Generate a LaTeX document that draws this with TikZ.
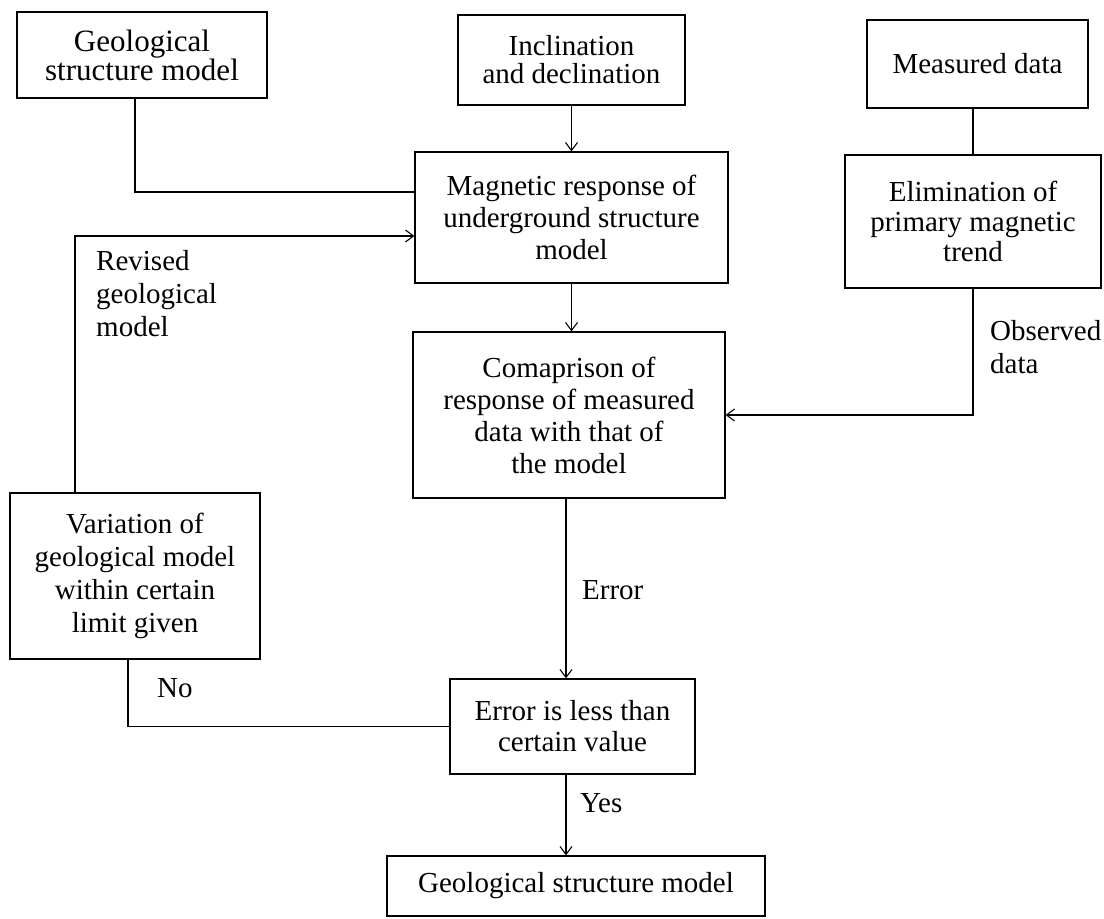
\documentclass[tikz,border=0pt]{standalone}
\usepackage{fontspec}
\setmainfont{Liberation Serif}
\usetikzlibrary{arrows.meta}
\begin{document}
\begin{tikzpicture}[x=1pt,y=-1pt,
  box/.style={draw, line width=1.3pt, inner sep=0pt, align=center, font=\fontsize{29}{32}\selectfont},
  lbl/.style={inner sep=0pt, align=left, font=\fontsize{29}{33}\selectfont},
  link/.style={line width=1.3pt},
  arr/.style={link, -{Straight Barb[length=8pt,width=12pt,line width=1.1pt]}}]
\useasboundingbox (0,0) rectangle (1104,919);
\fill[white] (0,0) rectangle (1104,919);
% boxes
\node[box, minimum width=250pt, minimum height=86pt, font=\fontsize{31}{28}\selectfont] (geo) at (142,55) {Geological\\structure model};
\node[box, minimum width=227pt, minimum height=90pt, font=\fontsize{29}{28}\selectfont] (inc) at (571.5,60) {Inclination\\and declination};
\node[box, minimum width=221pt, minimum height=88pt] (meas) at (977.5,64) {Measured data};
\node[box, minimum width=313pt, minimum height=131pt] (mag) at (571.5,217.5) {Magnetic response of\\underground structure\\model};
\node[box, minimum width=256pt, minimum height=133pt, font=\fontsize{29}{30}\selectfont] (elim) at (973,221.5) {Elimination of\\primary magnetic\\trend};
\node[box, minimum width=312pt, minimum height=166pt] (comp) at (569,415) {Comaprison of\\response of measured\\data with that of\\the model};
\node[box, minimum width=250pt, minimum height=166pt, font=\fontsize{29}{33}\selectfont] (var) at (135,576) {Variation of\\geological model\\within certain\\limit given};
\node[box, minimum width=245pt, minimum height=95pt, font=\fontsize{29}{31}\selectfont] (err) at (572.5,726.5) {Error is less than\\certain value};
\node[box, minimum width=378pt, minimum height=60pt] (final) at (576,886) {Geological structure model};
% helper coordinates
\coordinate (j1) at (135,192);
\coordinate (j4) at (75,236);
\coordinate (cx) at (566,0);
% connectors
\draw[link] (geo.south -| j1) -- (j1) -- (j1 -| mag.west);
\draw[arr] (inc.south) -- (inc.south |- mag.north);
\draw[link] (elim.north |- meas.south) -- (elim.north);
\draw[arr] (mag.south) -- (mag.south |- comp.north);
\draw[arr] (elim.south) |- (comp.east);
\draw[arr] (comp.south -| cx) -- (err.north -| cx);
\draw[arr] (err.south -| cx) -- (final.north -| cx);
\draw[link] (err.west) -| ([xshift=-7pt]var.south);
\draw[arr] (var.north -| j4) -- (j4) -- (j4 -| mag.west);
% labels
\node[lbl, anchor=base west] (lerr) at (582,599) {Error};
\node[lbl, anchor=base west] (lyes) at (580,812) {Yes};
\node[lbl, anchor=base west] (lno) at (157,697) {No};
\node[lbl, anchor=north west] (lobs) at (990,320) {Observed\\data};
\node[lbl, anchor=north west] (lrev) at (96,250) {Revised\\geological\\model};
\end{tikzpicture}
\end{document}
